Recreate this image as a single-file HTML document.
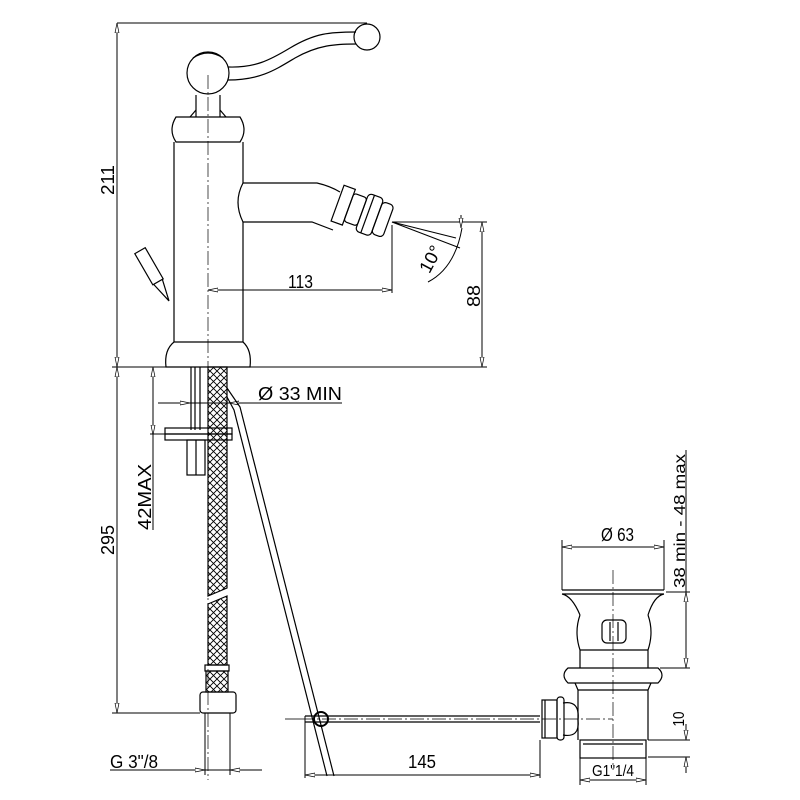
<!DOCTYPE html>
<html><head><meta charset="utf-8"><style>html,body{margin:0;padding:0;background:#fff}svg{display:block}text{font-family:"Liberation Sans",sans-serif;fill:#000}</style></head>
<body>
<svg width="800" height="800" viewBox="0 0 800 800" xmlns="http://www.w3.org/2000/svg">
<defs>
<pattern id="h" width="7" height="7" patternUnits="userSpaceOnUse">
<path d="M0 0L7 7M7 0L0 7" stroke="#000" stroke-width="0.9"/>
</pattern>
<marker id="a" viewBox="0 0 10 6" refX="10" refY="3" markerWidth="10" markerHeight="6" orient="auto-start-reverse" markerUnits="userSpaceOnUse"><path d="M0 1L10 3L0 5Z" fill="#fff" stroke="#000" stroke-width="0.7"/></marker>
</defs>
<g fill="none" stroke="#000" stroke-width="1.2">
<line x1="117" y1="23" x2="367" y2="23" stroke-width="1"/>
<line x1="117" y1="23" x2="117" y2="367" stroke-width="1" marker-start="url(#a)" marker-end="url(#a)"/>
<circle cx="367" cy="37" r="13"/>
<path d="M228 67 C255 68,270 60,290 48 C315 33,330 32,356 32"/>
<path d="M228 80 C260 80,275 70,295 58 C318 45,335 44,356 44"/>
<circle cx="208" cy="73" r="21"/>
<path d="M193 58 Q208 48 223 58"/>
<path d="M196 95 L196 117 M220 95 L220 117"/>
<path d="M190 117 L196 110 M226 117 L220 110"/>
<path d="M176 117 L240 117 Q248 130 240 142 L176 142 Q168 130 176 117Z"/>
<path d="M174 142 L174 342 M243 142 L243 183 M243 222 L243 342"/>
<path d="M174 342 L243 342 Q252 350 250 367 L166 367 Q164 350 174 342Z"/>
<path d="M243 183 L317 183 Q330 186 340 192"/>
<path d="M243 222 L312 222 L333 230"/>
<path d="M243 183 Q233 202 243 222"/>
<g transform="translate(362,212) rotate(20)">
<rect x="-26" y="-19" width="12" height="38"/>
<rect x="-14" y="-15" width="14" height="30" rx="3"/>
<rect x="0" y="-20" width="16" height="40" rx="4"/>
<rect x="16" y="-17" width="12" height="34" rx="4"/>
<line x1="6" y1="-20" x2="6" y2="20"/>
</g>
<line x1="392" y1="222" x2="487" y2="222" stroke-width="1"/>
<line x1="392" y1="222" x2="460" y2="248" stroke-width="1"/>
<line x1="392" y1="222" x2="456" y2="238" stroke-width="1"/>
<path d="M428 282 Q455 268 462 228" stroke-width="1"/>
<line x1="461" y1="215" x2="461" y2="228" stroke-width="1" marker-end="url(#a)"/>
<line x1="208" y1="290" x2="392" y2="290" stroke-width="1" marker-start="url(#a)" marker-end="url(#a)"/>
<line x1="392" y1="225" x2="392" y2="293" stroke-width="1"/>
<line x1="482" y1="222" x2="482" y2="367" stroke-width="1" marker-start="url(#a)" marker-end="url(#a)"/>
<line x1="250" y1="367" x2="487" y2="367" stroke-width="1"/>
<g transform="translate(150,268) rotate(-30)">
<rect x="-6" y="-20" width="12" height="36"/>
<path d="M-5 16 L0 38 L5 16"/>
</g>
<line x1="208" y1="75" x2="208" y2="780" stroke-width="0.7" stroke-dasharray="14 3 2 3"/>
<line x1="117" y1="367" x2="117" y2="713" stroke-width="1" marker-start="url(#a)" marker-end="url(#a)"/>
<line x1="112" y1="367" x2="166" y2="367" stroke-width="1"/>
<line x1="112" y1="713" x2="200" y2="713" stroke-width="1"/>
<line x1="153" y1="367" x2="153" y2="435" stroke-width="1" marker-start="url(#a)" marker-end="url(#a)"/>
<line x1="153" y1="435" x2="153" y2="530" stroke-width="1"/>
<line x1="150" y1="434" x2="165" y2="434" stroke-width="1"/>
<line x1="158" y1="403" x2="342" y2="403" stroke-width="1"/>
<line x1="176" y1="403" x2="190" y2="403" stroke-width="1" marker-end="url(#a)"/>
<line x1="243" y1="403" x2="229" y2="403" stroke-width="1" marker-end="url(#a)"/>
<path d="M191 367 L191 430 M195 367 L195 430 M200 367 L200 430"/>
<rect x="165" y="428" width="67" height="6"/>
<rect x="165" y="434" width="67" height="6"/>
<rect x="187" y="440" width="18" height="35"/>
<line x1="196" y1="440" x2="196" y2="475"/>
<path d="M208 367 L227 367 L227 588 L208 596Z" fill="url(#h)"/>
<path d="M208 604 L227 596 L227 665 L208 665Z" fill="url(#h)"/>
<rect x="205" y="665" width="24" height="6"/>
<rect x="206" y="671" width="22" height="21" fill="url(#h)"/>
<rect x="200" y="692" width="36" height="21" rx="3"/>
<line x1="205" y1="713" x2="205" y2="775" stroke-width="1"/>
<line x1="230" y1="713" x2="230" y2="775" stroke-width="1"/>
<line x1="110" y1="770" x2="262" y2="770" stroke-width="1"/>
<line x1="188" y1="770" x2="205" y2="770" stroke-width="1" marker-end="url(#a)"/>
<line x1="247" y1="770" x2="230" y2="770" stroke-width="1" marker-end="url(#a)"/>
<path d="M227 388 L240 407 L334 776"/>
<path d="M227 397 L234 410 L327 776"/>
<circle cx="321" cy="719" r="7" stroke-width="2"/>
<line x1="285" y1="719" x2="300" y2="719" stroke-width="0.8"/>
<line x1="305" y1="716" x2="540" y2="716"/>
<line x1="305" y1="722" x2="540" y2="722"/>
<line x1="305" y1="716" x2="305" y2="778" stroke-width="1"/>
<line x1="305" y1="775" x2="540" y2="775" stroke-width="1" marker-start="url(#a)" marker-end="url(#a)"/>
<line x1="540" y1="740" x2="540" y2="778" stroke-width="1"/>
<line x1="300" y1="719" x2="613" y2="719" stroke-width="0.7" stroke-dasharray="14 3 2 3"/>
<line x1="562" y1="547" x2="664" y2="547" stroke-width="1" marker-start="url(#a)" marker-end="url(#a)"/>
<line x1="562" y1="540" x2="562" y2="590" stroke-width="1"/>
<line x1="664" y1="540" x2="664" y2="590" stroke-width="1"/>
<line x1="562" y1="590" x2="664" y2="590"/>
<path d="M562 594 Q572 596 580 615 M664 594 Q654 596 648 615 M562 594 L664 594"/>
<path d="M580 615 Q574 632 580 650 L580 668 M648 615 Q654 632 648 650 L648 668 M580 650 L648 650"/>
<rect x="602" y="620" width="24" height="23" rx="5"/>
<path d="M610 622 L610 641 M618 622 L618 641"/>
<path d="M568 668 L658 668 Q666 675 658 683 L568 683 Q560 675 568 668Z"/>
<path d="M575 683 L578 690 L578 740 M651 683 L648 690 L648 740 M578 690 L648 690"/>
<path d="M563 703 Q580 700 578 720 Q580 738 563 735"/>
<rect x="557" y="697" width="7" height="43" rx="3"/>
<rect x="542" y="700" width="15" height="38"/>
<path d="M545 700 L545 738"/>
<rect x="580" y="740" width="66" height="18"/>
<line x1="583" y1="744" x2="643" y2="744"/>
<line x1="580" y1="758" x2="580" y2="785" stroke-width="1"/>
<line x1="646" y1="758" x2="646" y2="785" stroke-width="1"/>
<line x1="580" y1="780" x2="646" y2="780" stroke-width="1" marker-start="url(#a)" marker-end="url(#a)"/>
<line x1="613" y1="570" x2="613" y2="770" stroke-width="0.7" stroke-dasharray="14 3 2 3"/>
<line x1="666" y1="592" x2="690" y2="592" stroke-width="1"/>
<line x1="660" y1="668" x2="690" y2="668" stroke-width="1"/>
<line x1="686" y1="592" x2="686" y2="668" stroke-width="1" marker-start="url(#a)" marker-end="url(#a)"/>
<line x1="686" y1="450" x2="686" y2="592" stroke-width="1"/>
<line x1="648" y1="740" x2="690" y2="740" stroke-width="1"/>
<line x1="648" y1="757" x2="690" y2="757" stroke-width="1"/>
<line x1="686" y1="724" x2="686" y2="740" stroke-width="1" marker-end="url(#a)"/>
<line x1="686" y1="773" x2="686" y2="757" stroke-width="1" marker-end="url(#a)"/>
</g>
<g font-size="18">
<text transform="translate(114,180) rotate(-90)" text-anchor="middle" textLength="30" lengthAdjust="spacingAndGlyphs">211</text>
<text x="288" y="288" textLength="25" lengthAdjust="spacingAndGlyphs">113</text>
<text transform="translate(480,296) rotate(-90)" text-anchor="middle" textLength="22" lengthAdjust="spacingAndGlyphs">88</text>
<text transform="translate(436,262) rotate(-62)" text-anchor="middle" textLength="28" lengthAdjust="spacingAndGlyphs">10°</text>
<text transform="translate(114,540) rotate(-90)" text-anchor="middle" textLength="30" lengthAdjust="spacingAndGlyphs">295</text>
<text transform="translate(151,530) rotate(-90)" textLength="66" lengthAdjust="spacingAndGlyphs">42MAX</text>
<text x="258" y="400" textLength="84" lengthAdjust="spacingAndGlyphs">Ø 33  MIN</text>
<text x="110" y="768" textLength="48" lengthAdjust="spacingAndGlyphs">G 3"/8</text>
<text x="408" y="768" textLength="28" lengthAdjust="spacingAndGlyphs">145</text>
<text x="601" y="541" textLength="33" lengthAdjust="spacingAndGlyphs">Ø 63</text>
<text transform="translate(685,588) rotate(-90)" font-size="16" textLength="134" lengthAdjust="spacingAndGlyphs">38 min - 48 max</text>
<text transform="translate(684,719) rotate(-90)" text-anchor="middle" font-size="16" textLength="15" lengthAdjust="spacingAndGlyphs">10</text>
<text x="592" y="776" font-size="16" textLength="42" lengthAdjust="spacingAndGlyphs">G1"1/4</text>
</g>
</svg>
</body></html>
